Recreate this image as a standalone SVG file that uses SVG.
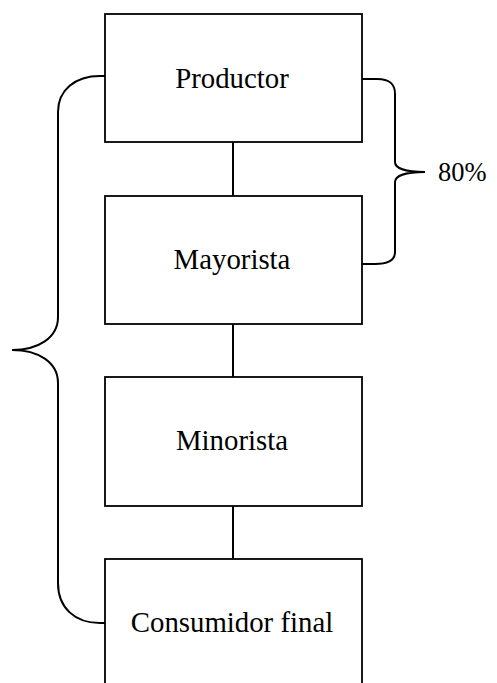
<svg xmlns="http://www.w3.org/2000/svg" width="497" height="683" viewBox="0 0 497 683">
<style>
.box{fill:#fff;stroke:#000;stroke-width:1.8}
.lbl{font-family:"Liberation Serif","Times New Roman",serif;font-size:28.8px;fill:#000;text-anchor:middle}
.ln{fill:none;stroke:#000;stroke-width:2}
</style>
<rect width="497" height="683" fill="#fff"/>
<g id="connectors">
<line class="ln" x1="233" y1="142" x2="233" y2="196"/>
<line class="ln" x1="233" y1="324" x2="233" y2="377"/>
<line class="ln" x1="233" y1="506" x2="233" y2="559"/>
</g>
<g id="productor"><rect class="box" x="105" y="14" width="257" height="128"/><text class="lbl" x="232" y="88">Productor</text></g>
<g id="mayorista"><rect class="box" x="105" y="196" width="257" height="128"/><text class="lbl" x="232" y="269">Mayorista</text></g>
<g id="minorista"><rect class="box" x="105" y="377" width="257" height="129"/><text class="lbl" x="232" y="450">Minorista</text></g>
<g id="consumidor"><rect class="box" x="105" y="559" width="257" height="140"/><text class="lbl" x="232" y="632">Consumidor final</text></g>
<g id="braces">
<path class="ln" d="M105,76 L100,76 C75,76 58,90 58,112 L58,317 C58,338 38,350 12,350 C38,350 58,362 58,383 L58,583 C58,608 75,623 100,623 L105,623"/>
<path class="ln" d="M362,79 L377,79 C390,79 395,84 395,94 L395,162 C395,168 405,172 425,172 C405,172 395,176 395,182 L395,252 C395,260 388,264 375,264 L362,264"/>
<text x="438" y="181" style="font-family:'Liberation Serif','Times New Roman',serif;font-size:26.5px;fill:#000">80%</text>
</g>
</svg>
